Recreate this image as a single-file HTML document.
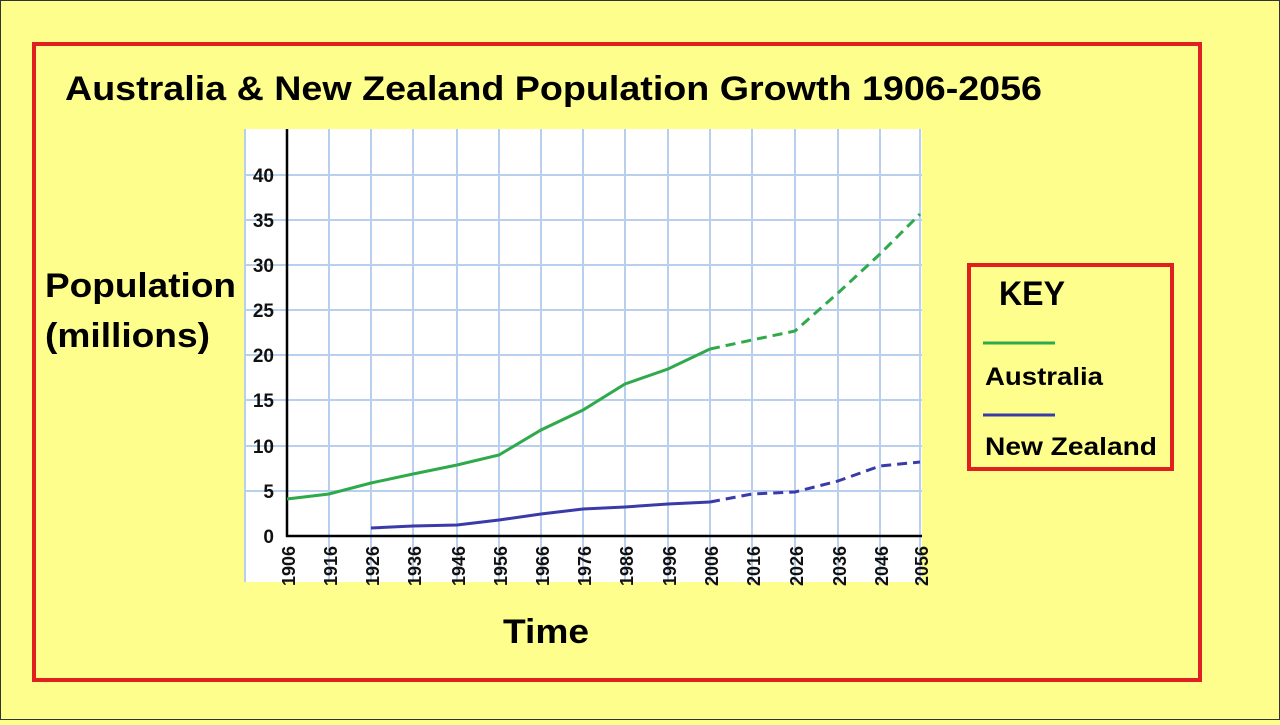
<!DOCTYPE html>
<html><head><style>
body{margin:0;width:1280px;height:720px;background:#fefe8c;overflow:hidden;font-family:"Liberation Sans",sans-serif;}
</style></head><body>
<svg width="1280" height="720" xmlns="http://www.w3.org/2000/svg" font-family="Liberation Sans, sans-serif" font-weight="bold">
<rect x="0.5" y="0.5" width="1279" height="719" fill="#fefe8c" stroke="#333" stroke-width="1"/>
<rect x="34" y="44" width="1166" height="636" fill="none" stroke="#e02020" stroke-width="4"/>
<text x="65" y="100" font-size="34" fill="#000" textLength="977" lengthAdjust="spacingAndGlyphs">Australia &amp; New Zealand Population Growth 1906-2056</text>
<rect x="244" y="129" width="678" height="453" fill="#fff"/>
<g stroke="#b8cfee" stroke-width="2">
<line x1="245" y1="129" x2="245" y2="582"/>
<line x1="329" y1="129" x2="329" y2="582"/><line x1="371" y1="129" x2="371" y2="582"/><line x1="413" y1="129" x2="413" y2="582"/><line x1="457" y1="129" x2="457" y2="582"/><line x1="499" y1="129" x2="499" y2="582"/><line x1="541" y1="129" x2="541" y2="582"/><line x1="583" y1="129" x2="583" y2="582"/><line x1="625" y1="129" x2="625" y2="582"/><line x1="668" y1="129" x2="668" y2="582"/><line x1="710" y1="129" x2="710" y2="582"/><line x1="752" y1="129" x2="752" y2="582"/><line x1="795" y1="129" x2="795" y2="582"/><line x1="838" y1="129" x2="838" y2="582"/><line x1="880" y1="129" x2="880" y2="582"/><line x1="920" y1="129" x2="920" y2="582"/>
<line x1="244" y1="175" x2="922" y2="175"/><line x1="244" y1="220" x2="922" y2="220"/><line x1="244" y1="265" x2="922" y2="265"/><line x1="244" y1="310" x2="922" y2="310"/><line x1="244" y1="355" x2="922" y2="355"/><line x1="244" y1="400" x2="922" y2="400"/><line x1="244" y1="446" x2="922" y2="446"/><line x1="244" y1="491" x2="922" y2="491"/>
</g>
<line x1="287" y1="129" x2="287" y2="537" stroke="#000" stroke-width="2.5"/>
<line x1="286" y1="536" x2="922" y2="536" stroke="#000" stroke-width="2.5"/>
<g font-size="19" text-anchor="end" fill="#111">
<text x="274" y="182">40</text><text x="274" y="227">35</text><text x="274" y="272">30</text><text x="274" y="317">25</text><text x="274" y="362">20</text><text x="274" y="407">15</text><text x="274" y="453">10</text><text x="274" y="498">5</text><text x="274" y="543">0</text>
</g>
<g font-size="18" text-anchor="end" fill="#111">
<text transform="translate(295,546) rotate(-90)">1906</text><text transform="translate(337,546) rotate(-90)">1916</text><text transform="translate(379,546) rotate(-90)">1926</text><text transform="translate(421,546) rotate(-90)">1936</text><text transform="translate(465,546) rotate(-90)">1946</text><text transform="translate(507,546) rotate(-90)">1956</text><text transform="translate(549,546) rotate(-90)">1966</text><text transform="translate(591,546) rotate(-90)">1976</text><text transform="translate(633,546) rotate(-90)">1986</text><text transform="translate(676,546) rotate(-90)">1996</text><text transform="translate(718,546) rotate(-90)">2006</text><text transform="translate(760,546) rotate(-90)">2016</text><text transform="translate(803,546) rotate(-90)">2026</text><text transform="translate(846,546) rotate(-90)">2036</text><text transform="translate(888,546) rotate(-90)">2046</text><text transform="translate(928,546) rotate(-90)">2056</text>
</g>
<polyline fill="none" stroke="#2eaa4a" stroke-width="3" points="287,499 329,494 371,483 413,474 457,465 499,455 541,430 583,410 625,384 668,369 710,349"/>
<polyline fill="none" stroke="#2eaa4a" stroke-width="3" stroke-dasharray="10,6" points="710,349 752,340 795,331 838,293 880,254 920,214"/>
<polyline fill="none" stroke="#3a3aa8" stroke-width="3" points="371,528 413,526 457,525 499,520 541,514 583,509 625,507 668,504 710,502"/>
<polyline fill="none" stroke="#3a3aa8" stroke-width="3" stroke-dasharray="10,6" points="710,502 752,494 795,492 838,481 880,466 920,462"/>
<text x="45" y="297" font-size="34" fill="#000" textLength="191" lengthAdjust="spacingAndGlyphs">Population</text>
<text x="45" y="347" font-size="34" fill="#000" textLength="165" lengthAdjust="spacingAndGlyphs">(millions)</text>
<text x="503" y="643" font-size="34" fill="#000" textLength="86" lengthAdjust="spacingAndGlyphs">Time</text>
<rect x="969" y="265" width="203" height="204" fill="none" stroke="#e02020" stroke-width="4"/>
<text x="999" y="305" font-size="34" fill="#000" textLength="66" lengthAdjust="spacingAndGlyphs">KEY</text>
<line x1="983" y1="343" x2="1055" y2="343" stroke="#2eaa4a" stroke-width="3"/>
<text x="985" y="385" font-size="25" fill="#000" textLength="118" lengthAdjust="spacingAndGlyphs">Australia</text>
<line x1="983" y1="415" x2="1055" y2="415" stroke="#3a3aa8" stroke-width="3"/>
<text x="985" y="455" font-size="25" fill="#000" textLength="172" lengthAdjust="spacingAndGlyphs">New Zealand</text>
</svg>
</body></html>
